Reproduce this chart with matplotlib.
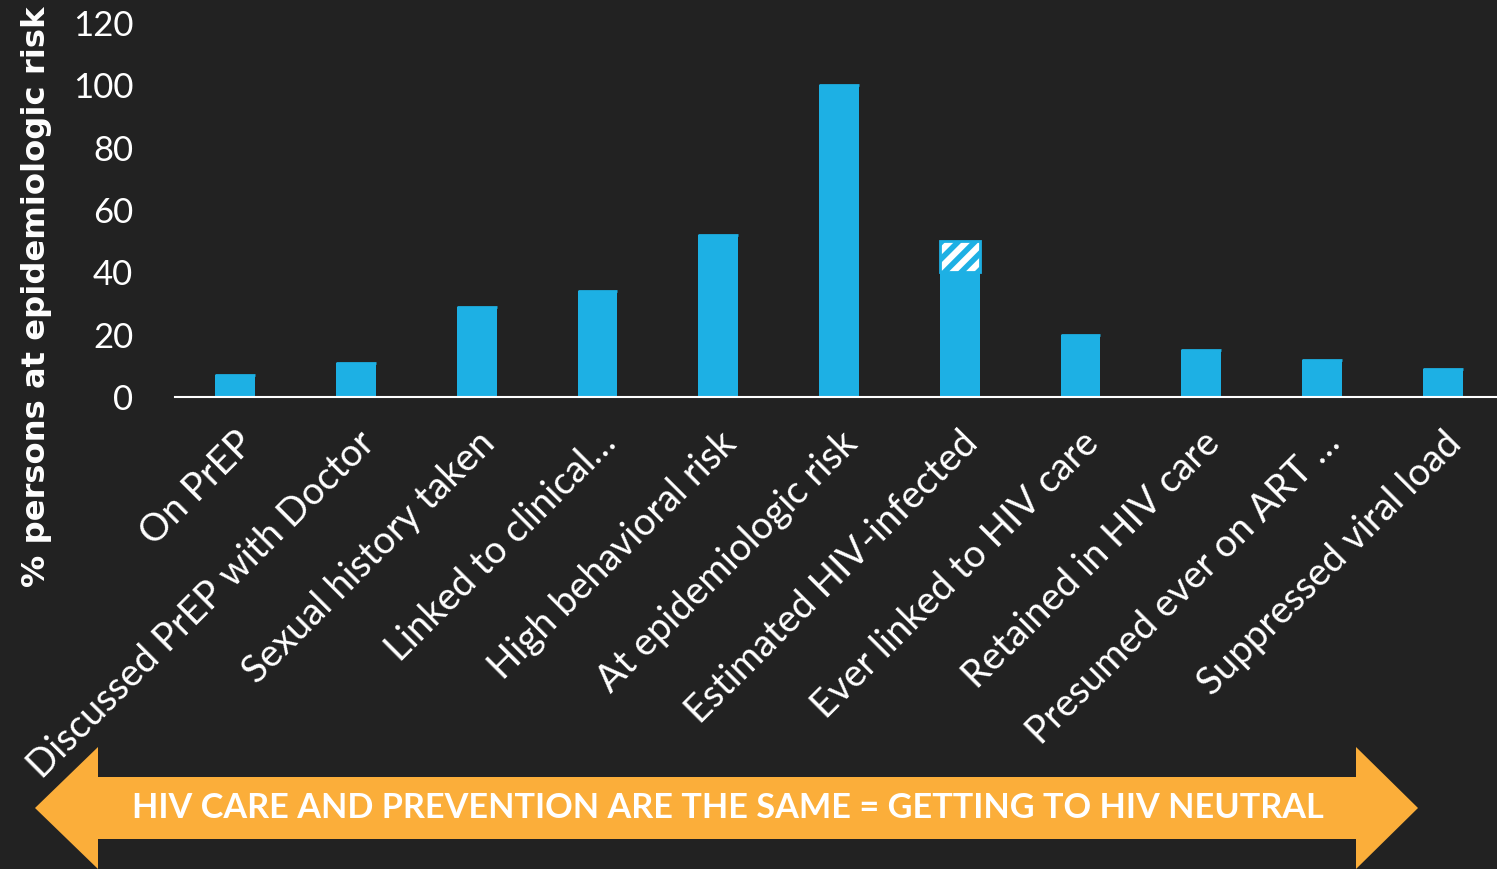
import matplotlib.pyplot as plt
from matplotlib.patches import Polygon

# categories along the cascade and % of persons at epidemiologic risk
categories = ['On PrEP', 'Discussed PrEP with Doctor', 'Sexual history taken',
              'Linked to clinical…', 'High behavioral risk', 'At epidemiologic risk',
              'Estimated HIV-infected', 'Ever linked to HIV care', 'Retained in HIV care',
              'Presumed ever on ART …', 'Suppressed viral load']
values = [7, 11, 29, 34, 52, 100, 40, 20, 15, 12, 9]
# uncertain extra on top of the estimated HIV-infected bar
extra = [0, 0, 0, 0, 0, 0, 10, 0, 0, 0, 0]
yticks = [0, 20, 40, 60, 80, 100, 120]
banner = 'HIV CARE AND PREVENTION ARE THE SAME = GETTING TO HIV NEUTRAL'

bg = '#222222'
blue = '#1DB0E4'
orange = '#FBAE3A'
plt.rcParams['font.family'] = ['Lato', 'DejaVu Sans']
plt.rcParams['hatch.color'] = blue
plt.rcParams['hatch.linewidth'] = 4

W, H = 1497, 869
fig = plt.figure(figsize=(W / 100, H / 100), dpi=100, facecolor=bg)
ax = fig.add_axes([175 / W, 1 - 397 / H, (1503 - 175) / W, (397 - 23) / H])
ax.set_facecolor(bg)

x = range(len(categories))
ax.bar(x, values, width=0.33, color=blue)
ax.bar(x, extra, bottom=values, width=0.33, color='white', edgecolor=blue,
       hatch='//', linewidth=2)

ax.set_xlim(-0.5, len(categories) - 0.5)
ax.set_ylim(0, 120)
ax.set_yticks(yticks)
ax.set_xticks(list(x))
ax.set_xticklabels(categories, rotation=45, ha='right', rotation_mode='anchor',
                   fontsize=27.5)
ax.tick_params(axis='both', colors='white', length=0)
ax.tick_params(axis='y', labelsize=25, pad=30)
ax.tick_params(axis='x', pad=20)
for s in ['top', 'right', 'left']:
    ax.spines[s].set_visible(False)
ax.spines['bottom'].set_color('white')
ax.spines['bottom'].set_linewidth(1.5)

fig.text(37 / W, 1 - 297 / H, '% persons at epidemiologic risk', color='white',
         fontsize=23.2, fontweight='bold', rotation=90, ha='center', va='center',
         family=['DejaVu Sans'])

# double-headed banner arrow
pts = [(35, 808), (98, 747), (98, 777), (1356, 777), (1356, 747), (1418, 808),
       (1356, 869), (1356, 839), (98, 839), (98, 869)]
arrow = Polygon([(px / W, 1 - py / H) for px, py in pts], closed=True,
                transform=fig.transFigure, facecolor=orange, edgecolor='none')
fig.patches.append(arrow)
fig.text(728 / W, 1 - 808 / H, banner, color='white', fontsize=24.7,
         fontweight='bold', ha='center', va='center')

fig.savefig('out.png', dpi=100, facecolor=bg)
